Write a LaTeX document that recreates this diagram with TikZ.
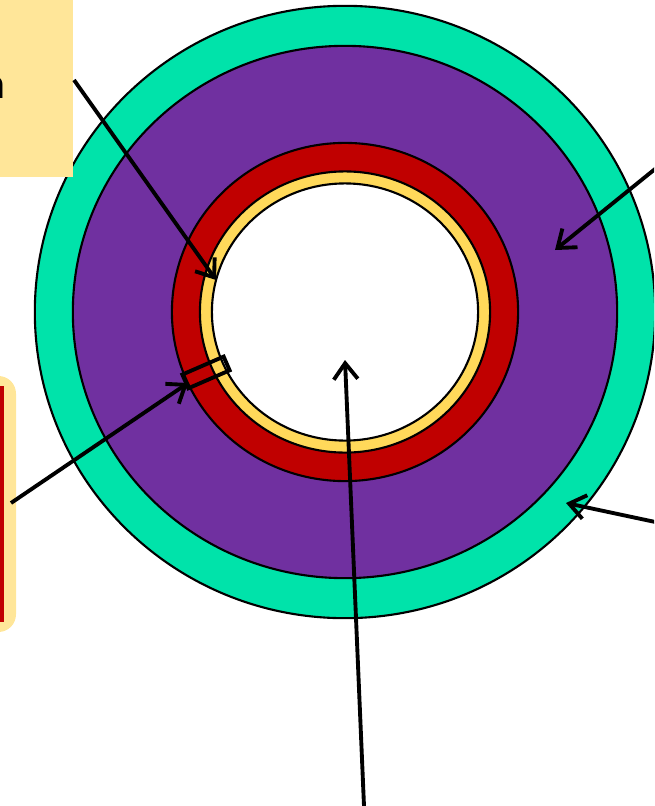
\documentclass[tikz,border=0pt]{standalone}
\usepackage{fontspec}
\setmainfont{Carlito}
\usetikzlibrary{arrows.meta}

\definecolor{jacket}{HTML}{00E3AA}
\definecolor{wall}{HTML}{7030A0}
\definecolor{shell}{HTML}{C00000}
\definecolor{lining}{HTML}{FFD95A}
\definecolor{notebg}{HTML}{FFE699}

\begin{document}
\begin{tikzpicture}[x=0.01cm,y=-0.01cm,line width=0.6pt,
    >={Straight Barb[length=1.6mm,width=2.4mm,line width=1.1pt]},
    pointer/.style={->,line width=1.1pt,black}]
  \useasboundingbox (0,0) rectangle (654,806);
  \clip (0,0) rectangle (654,806);
  \coordinate (ctr) at (345,312);
  % rings
  \draw[fill=jacket] (ctr) ellipse (3.10cm and 3.06cm);
  \draw[fill=wall] (ctr) ellipse (2.72cm and 2.66cm);
  \draw[fill=shell] (ctr) ellipse (1.73cm and 1.69cm);
  \draw[fill=lining] (ctr) ellipse (1.45cm and 1.405cm);
  \draw[fill=white] (ctr) ellipse (1.33cm and 1.285cm);
  % small cut element
  \begin{scope}[shift={(ctr)},rotate=203.5]
    \draw[line width=1.1pt] (1.29cm,-0.075cm) rectangle (1.74cm,0.075cm);
  \end{scope}
  % note boxes (cut by the frame)
  \fill[notebg] (-30,-30) rectangle (73,177);
  \node[anchor=base east,inner sep=0pt,font=\fontsize{12.5}{15}\selectfont] (lbl) at (7,98) {n};
  \fill[notebg,rounded corners=5] (-40,376) rectangle (16,632);
  \fill[shell] (-10,386) rectangle (4,622);
  % pointers
  \coordinate (s1) at (74,80);   \coordinate (t1) at (216,280);
  \coordinate (s2) at (660,165); \coordinate (t2) at (555,250);
  \coordinate (s3) at (11,503);  \coordinate (t3) at (188,383);
  \coordinate (s4) at (660,523); \coordinate (t4) at (566,503);
  \coordinate (s5) at (364,806); \coordinate (t5) at (345,360);
  \foreach \i in {1,...,5} \draw[pointer] (s\i) -- (t\i);
\end{tikzpicture}
\end{document}
